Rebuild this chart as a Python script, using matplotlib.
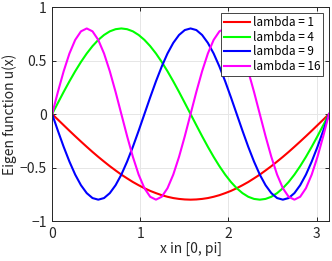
import numpy as np
import matplotlib
matplotlib.use("Agg")
import matplotlib.pyplot as plt

plt.rcParams['font.family'] = ['Noto Sans CJK JP', 'DejaVu Sans']

# x samples: 0 .. pi in 49 steps (pi/48)
x_vals = [k * np.pi / 48 for k in range(49)]

u_lambda1 = [0, -.052, -.104, -.156, -.207, -.257, -.306, -.354, -.400, -.444, -.487, -.527,
             -.566, -.601, -.635, -.665, -.693, -.718, -.739, -.758, -.773, -.785, -.793, -.798,
             -.800, -.798, -.793, -.785, -.773, -.758, -.739, -.718, -.693, -.665, -.635, -.601,
             -.566, -.527, -.487, -.444, -.400, -.354, -.306, -.257, -.207, -.156, -.104, -.052, 0]

u_lambda4 = [0, .104, .207, .306, .400, .487, .566, .635, .693, .739, .773, .793,
             .800, .793, .773, .739, .693, .635, .566, .487, .400, .306, .207, .104,
             0, -.104, -.207, -.306, -.400, -.487, -.566, -.635, -.693, -.739, -.773, -.793,
             -.800, -.793, -.773, -.739, -.693, -.635, -.566, -.487, -.400, -.306, -.207, -.104, 0]

u_lambda9 = [0, -.156, -.306, -.444, -.566, -.665, -.739, -.785, -.800,
             -.785, -.739, -.665, -.566, -.444, -.306, -.156, 0,
             .156, .306, .444, .566, .665, .739, .785, .800,
             .785, .739, .665, .566, .444, .306, .156, 0,
             -.156, -.306, -.444, -.566, -.665, -.739, -.785, -.800,
             -.785, -.739, -.665, -.566, -.444, -.306, -.156, 0]

u_lambda16 = [0, .207, .400, .566, .693, .773, .800, .773, .693, .566, .400, .207,
              0, -.207, -.400, -.566, -.693, -.773, -.800, -.773, -.693, -.566, -.400, -.207,
              0, .207, .400, .566, .693, .773, .800, .773, .693, .566, .400, .207,
              0, -.207, -.400, -.566, -.693, -.773, -.800, -.773, -.693, -.566, -.400, -.207, 0]

series_labels = ['lambda = 1', 'lambda = 4', 'lambda = 9', 'lambda = 16']
series_colors = ['#ff0000', '#00ff00', '#0000ff', '#ff00ff']
x_ticks = [0, 1, 2, 3]
y_ticks = [-1, -0.5, 0, 0.5, 1]
y_tick_labels = ['\u22121', '\u22120.5', '0', '0.5', '1']

fig = plt.figure(figsize=(3.32, 2.61), dpi=100)
ax = fig.add_axes([0.157, 0.153, 0.834, 0.82])

for ys, lab, col in zip([u_lambda1, u_lambda4, u_lambda9, u_lambda16], series_labels, series_colors):
    ax.plot(x_vals, ys, color=col, lw=1.5, label=lab)

ax.set_xlim(0, np.pi)
ax.set_ylim(-1, 1)
ax.set_xticks(x_ticks)
ax.set_xticklabels([str(t) for t in x_ticks])
ax.set_yticks(y_ticks)
ax.set_yticklabels(y_tick_labels)
ax.grid(True, color='#e6e6e6', lw=0.7)
ax.set_axisbelow(True)
for sp in ax.spines.values():
    sp.set_color('#262626')
    sp.set_linewidth(0.7)
ax.tick_params(direction='in', length=3, width=0.7, colors='#262626', labelsize=10, pad=4,
               top=True, right=True)
ax.set_xlabel('x in [0, pi]', fontsize=10, color='#262626', labelpad=1)
ax.set_ylabel('Eigen function u(x)', fontsize=10, color='#262626', labelpad=2)

leg = ax.legend(loc='upper right', fontsize=8.5, handlelength=2.2, handletextpad=0.2,
                borderpad=0.25, labelspacing=0.15, borderaxespad=0.5, fancybox=False,
                framealpha=1, edgecolor='#262626')
leg.get_frame().set_linewidth(0.6)

fig.savefig('out.png', dpi=100)
